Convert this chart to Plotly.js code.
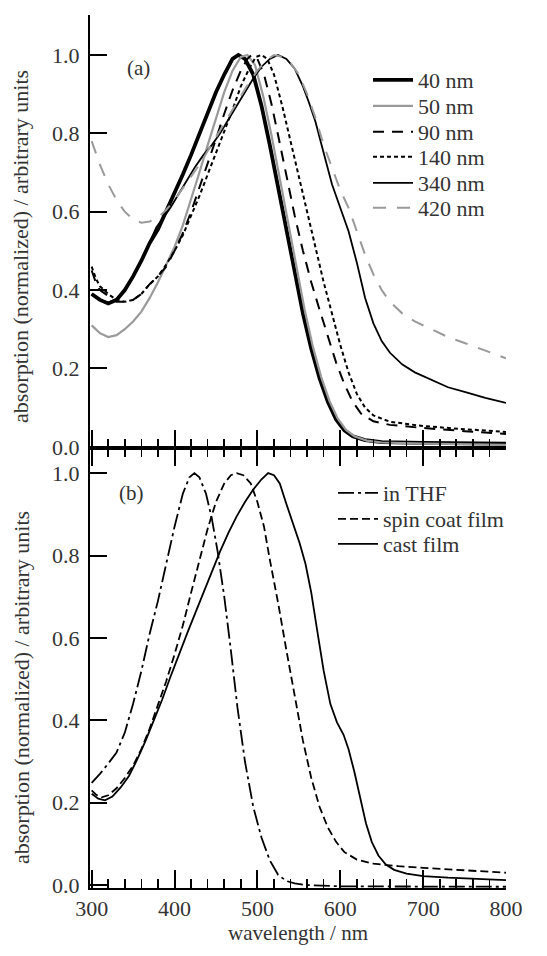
<!DOCTYPE html>
<html>
<head>
<meta charset="utf-8">
<script src="https://cdn.plot.ly/plotly-3.0.1.min.js"></script>
<style>
html,body{margin:0;padding:0;background:#fff;}
#chart{width:547px;height:956px;}
</style>
</head>
<body>
<div id="chart"></div>
<script>
// ---------- panel (a): film thickness series ----------
const wl40 = [300,310,320,330,340,350,360,370,380,390,400,410,420,430,440,450,460,470,477,485,495,505,515,525,535,545,555,565,575,585,595,605,615,630,650,700,800];
const ab40 = [0.39,0.375,0.366,0.375,0.40,0.435,0.475,0.52,0.555,0.60,0.645,0.695,0.745,0.80,0.855,0.905,0.95,0.99,1.0,0.99,0.95,0.87,0.77,0.66,0.55,0.44,0.34,0.25,0.175,0.115,0.07,0.042,0.027,0.017,0.012,0.01,0.008];

const wl50 = [300,310,320,330,340,350,360,370,380,390,400,410,420,430,440,450,460,470,480,488,497,507,517,527,537,547,557,567,577,587,597,607,617,632,650,700,800];
const ab50 = [0.31,0.29,0.28,0.285,0.30,0.32,0.345,0.38,0.42,0.465,0.51,0.565,0.63,0.70,0.77,0.84,0.905,0.96,0.995,1.0,0.975,0.895,0.795,0.685,0.57,0.455,0.35,0.255,0.178,0.117,0.072,0.043,0.027,0.016,0.011,0.008,0.005];

const wl90 = [300,305,310,320,330,340,350,360,370,380,390,400,410,420,430,440,450,460,470,480,488,493,500,508,517,526,535,545,555,565,575,585,595,605,615,625,640,660,700,750,800];
const ab90 = [0.45,0.42,0.40,0.385,0.37,0.37,0.375,0.39,0.415,0.435,0.46,0.50,0.545,0.60,0.66,0.72,0.785,0.85,0.91,0.96,0.99,1.0,0.99,0.95,0.875,0.785,0.69,0.59,0.50,0.42,0.35,0.28,0.215,0.16,0.115,0.085,0.065,0.056,0.048,0.04,0.033];

const wl140 = [300,305,310,320,330,340,350,360,370,380,390,400,410,420,430,440,450,460,470,480,490,498,505,512,520,530,540,550,560,570,580,590,600,610,620,630,640,660,700,750,800];
const ab140 = [0.46,0.43,0.41,0.39,0.375,0.37,0.375,0.39,0.415,0.435,0.465,0.50,0.54,0.59,0.64,0.695,0.75,0.80,0.86,0.92,0.965,0.995,1.0,0.99,0.95,0.87,0.78,0.69,0.60,0.51,0.42,0.34,0.26,0.19,0.135,0.10,0.08,0.064,0.053,0.045,0.038];

const wl340 = [300,310,320,330,340,350,360,370,378,385,395,405,415,425,435,445,455,465,475,485,495,505,515,525,535,545,555,562,570,580,590,600,610,620,630,640,650,660,675,690,710,730,750,775,800];
const ab340 = [0.39,0.375,0.368,0.378,0.40,0.435,0.475,0.52,0.56,0.58,0.61,0.645,0.68,0.715,0.745,0.77,0.80,0.835,0.87,0.905,0.94,0.97,0.99,1.0,0.99,0.965,0.92,0.88,0.83,0.75,0.67,0.61,0.55,0.47,0.38,0.315,0.27,0.24,0.21,0.19,0.17,0.152,0.14,0.125,0.112];

const wl420 = [300,310,320,330,340,350,360,370,380,390,400,410,420,430,440,450,460,470,480,490,500,510,520,530,540,550,560,570,580,590,600,610,620,630,640,650,660,675,690,710,730,750,775,800];
const ab420 = [0.78,0.72,0.67,0.63,0.60,0.58,0.572,0.575,0.585,0.605,0.63,0.66,0.69,0.72,0.755,0.79,0.825,0.86,0.895,0.93,0.96,0.985,1.0,0.995,0.98,0.95,0.90,0.84,0.77,0.71,0.655,0.61,0.55,0.49,0.44,0.40,0.37,0.34,0.32,0.30,0.28,0.265,0.245,0.226];

// ---------- panel (b): solution vs films ----------
const wlTHF = [300,310,320,330,340,350,360,370,380,390,400,410,418,424,430,438,445,452,460,468,476,485,495,505,515,525,535,545,560,600,700,800];
const abTHF = [0.248,0.27,0.295,0.322,0.37,0.44,0.52,0.61,0.69,0.78,0.87,0.95,0.99,1.0,0.99,0.95,0.89,0.81,0.70,0.57,0.43,0.30,0.19,0.115,0.06,0.025,0.01,0.004,0.0,-0.003,-0.004,-0.004];

const wlSpin = [300,305,312,320,330,340,350,360,370,380,390,400,410,420,430,440,450,460,468,475,483,492,500,508,515,525,535,545,555,565,575,585,595,605,620,640,670,700,750,800];
const abSpin = [0.23,0.22,0.213,0.218,0.235,0.26,0.29,0.33,0.38,0.435,0.495,0.56,0.63,0.71,0.79,0.865,0.93,0.975,0.995,1.0,0.995,0.975,0.93,0.87,0.79,0.685,0.57,0.455,0.35,0.26,0.19,0.14,0.105,0.08,0.062,0.052,0.046,0.042,0.036,0.03];

const wlCast = [300,308,316,325,335,345,355,365,375,385,395,405,415,425,435,445,455,465,475,485,495,505,513,520,527,535,543,551,558,565,572,580,588,596,604,610,617,624,631,638,646,655,665,680,700,730,760,800];
const abCast = [0.222,0.21,0.206,0.215,0.237,0.265,0.305,0.35,0.40,0.45,0.505,0.56,0.61,0.66,0.71,0.76,0.81,0.855,0.895,0.93,0.96,0.985,1.0,0.995,0.975,0.925,0.875,0.83,0.78,0.71,0.62,0.52,0.44,0.395,0.365,0.33,0.275,0.21,0.15,0.105,0.072,0.05,0.037,0.028,0.022,0.018,0.015,0.012];

const namesA = ['40 nm','50 nm','90 nm','140 nm','340 nm','420 nm'];
const namesB = ['in THF','spin coat film','cast film'];
const yTickVals = [0,0.2,0.4,0.6,0.8,1.0];
const xTickVals = [300,400,500,600,700,800];
const yTitleText = 'absorption (normalized) / arbitrary units';

const FONT = 'Liberation Serif, Times New Roman, serif';
const GRAY = '#9a9a9a';
const TXT = '#333';

const traces = [
  {x: wl40, y: ab40, name: namesA[0], xaxis:'x2', yaxis:'y2', line:{color:'#000', width:3.8}},
  {x: wl50, y: ab50, name: namesA[1], xaxis:'x2', yaxis:'y2', line:{color:GRAY, width:2.2}},
  {x: wl90, y: ab90, name: namesA[2], xaxis:'x2', yaxis:'y2', line:{color:'#000', width:2, dash:'11px,8px'}},
  {x: wl140, y: ab140, name: namesA[3], xaxis:'x2', yaxis:'y2', line:{color:'#000', width:2, dash:'4px,3px'}},
  {x: wl340, y: ab340, name: namesA[4], xaxis:'x2', yaxis:'y2', line:{color:'#000', width:1.8}},
  {x: wl420, y: ab420, name: namesA[5], xaxis:'x2', yaxis:'y2', line:{color:GRAY, width:2, dash:'13px,11px'}},
  {x: wlTHF, y: abTHF, name: namesB[0], xaxis:'x', yaxis:'y', line:{color:'#000', width:1.8, dash:'16px,4px,3px,4px'}},
  {x: wlSpin, y: abSpin, name: namesB[1], xaxis:'x', yaxis:'y', line:{color:'#000', width:1.8, dash:'8px,4px'}},
  {x: wlCast, y: abCast, name: namesB[2], xaxis:'x', yaxis:'y', line:{color:'#000', width:1.8}}
];

// one legend per entry so the row spacing matches the reference
const W = 547, H = 956, L = 90, R = 41, T = 15, B = 68;
const plotW = W - L - R, plotH = H - T - B;
const py2paper = py => 1 - (py - T) / plotH;
const px2paper = px => (px - L) / plotW;
const legendRows = [
  {left: 368, py: 80}, {left: 368, py: 106}, {left: 368, py: 132},
  {left: 368, py: 157}, {left: 368, py: 183}, {left: 368, py: 208},
  {left: 333, py: 493}, {left: 333, py: 519}, {left: 333, py: 544}
];

const layout = {
  width: W, height: H,
  margin: {l: L, r: R, t: T, b: B},
  paper_bgcolor: '#fff', plot_bgcolor: '#fff',
  showlegend: true,
  annotations: [
    {text: '(a)', x: 357, y: 0.967, xref: 'x2', yref: 'y2', showarrow: false, font: {family: FONT, size: 21, color: TXT}},
    {text: '(b)', x: 348, y: 0.951, xref: 'x', yref: 'y', showarrow: false, font: {family: FONT, size: 21, color: TXT}},
    {text: yTitleText, textangle: -90, x: px2paper(21), y: py2paper(247), xref: 'paper', yref: 'paper',
     xanchor: 'center', yanchor: 'middle', showarrow: false, font: {family: FONT, size: 22, color: TXT}},
    {text: yTitleText, textangle: -90, x: px2paper(21), y: py2paper(688), xref: 'paper', yref: 'paper',
     xanchor: 'center', yanchor: 'middle', showarrow: false, font: {family: FONT, size: 22, color: TXT}}
  ]
};

traces.forEach((t, i) => {
  t.mode = 'lines';
  t.hoverinfo = 'skip';
  const key = i === 0 ? 'legend' : 'legend' + (i + 1);
  t.legend = key;
  const row = legendRows[i];
  layout[key] = {
    x: px2paper(row.left), xanchor: 'left',
    y: py2paper(row.py), yanchor: 'middle', itemwidth: 40,
    font: {family: FONT, size: 22, color: TXT}, bgcolor: 'rgba(0,0,0,0)', borderwidth: 0
  };
});

const split = (888 - 448) / plotH;

const yBase = {
  tickvals: yTickVals, tickformat: '.1f', ticks: 'inside', ticklen: 17, tickwidth: 2, tickcolor: '#000',
  showline: true, linewidth: 2, linecolor: '#000', showgrid: false, zeroline: false,
  tickfont: {family: FONT, size: 22, color: TXT}, ticklabelstandoff: 4
};
const xBase = {
  range: [298, 800], tickvals: xTickVals,
  ticks: 'inside', ticklen: 18, tickwidth: 2, tickcolor: '#000',
  minor: {dtick: 20, tick0: 300, ticks: 'inside', ticklen: 9, tickwidth: 1.6, tickcolor: '#000'},
  showline: true, linewidth: 2, linecolor: '#000', showgrid: false, zeroline: false
};

layout.xaxis = Object.assign({}, xBase, {
  domain: [0, 1], anchor: 'y', mirror: 'ticks',
  tickfont: {family: FONT, size: 22, color: TXT},
  title: {text: 'wavelength / nm', font: {family: FONT, size: 21, color: TXT}, standoff: 4}
});
layout.xaxis2 = Object.assign({}, xBase, {domain: [0, 1], anchor: 'y2', matches: 'x', showticklabels: false});
layout.yaxis = Object.assign({}, yBase, {domain: [0, split], range: [-0.007, 1.061], anchor: 'x'});
layout.yaxis2 = Object.assign({}, yBase, {domain: [split, 1], range: [-0.003, 1.102], anchor: 'x2'});

Plotly.newPlot('chart', traces, layout, {staticPlot: true, displayModeBar: false});
</script>
</body>
</html>
